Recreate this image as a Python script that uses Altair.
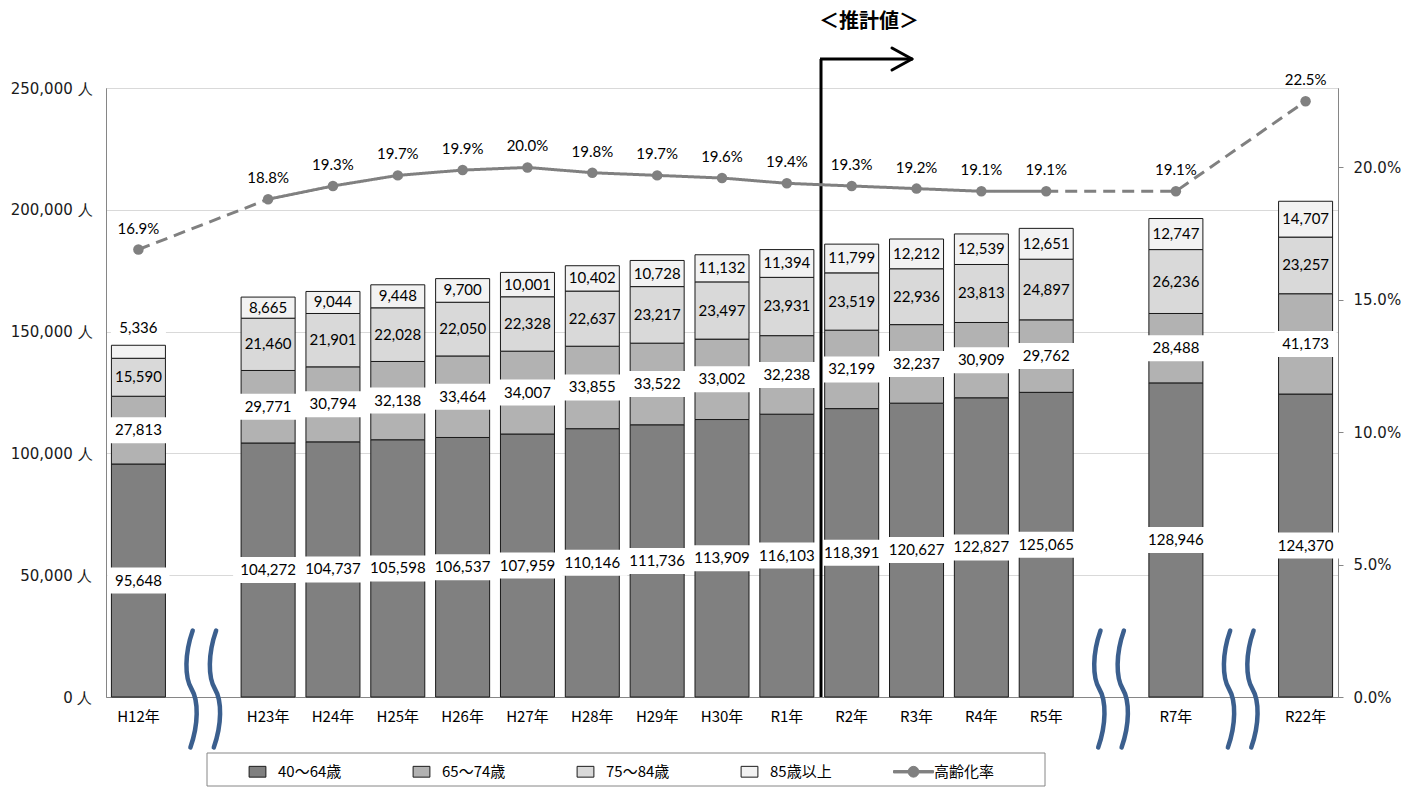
import altair as alt
import pandas as pd

# ---------------- data ----------------
YEARS = ["H12年", "H23年", "H24年", "H25年", "H26年", "H27年", "H28年", "H29年",
         "H30年", "R1年", "R2年", "R3年", "R4年", "R5年", "R7年", "R22年"]
# category slots on the x axis (blank slots mark the axis breaks)
SLOTS = ["H12年", "gap1", "H23年", "H24年", "H25年", "H26年", "H27年", "H28年",
         "H29年", "H30年", "R1年", "R2年", "R3年", "R4年", "R5年", "gap2",
         "R7年", "gap3", "R22年"]
GAPS = ["gap1", "gap2", "gap3"]

SERIES = ["40〜64歳", "65〜74歳", "75〜84歳", "85歳以上"]
LINE_NAME = "高齢化率"

AGE_40_64 = [95648, 104272, 104737, 105598, 106537, 107959, 110146, 111736,
             113909, 116103, 118391, 120627, 122827, 125065, 128946, 124370]
AGE_65_74 = [27813, 29771, 30794, 32138, 33464, 34007, 33855, 33522,
             33002, 32238, 32199, 32237, 30909, 29762, 28488, 41173]
AGE_75_84 = [15590, 21460, 21901, 22028, 22050, 22328, 22637, 23217,
             23497, 23931, 23519, 22936, 23813, 24897, 26236, 23257]
AGE_85_UP = [5336, 8665, 9044, 9448, 9700, 10001, 10402, 10728,
             11132, 11394, 11799, 12212, 12539, 12651, 12747, 14707]
RATE = [16.9, 18.8, 19.3, 19.7, 19.9, 20.0, 19.8, 19.7, 19.6, 19.4,
        19.3, 19.2, 19.1, 19.1, 19.1, 22.5]
SOLID_FROM, SOLID_TO = "H23年", "R5年"   # solid part of the rate line

LEFT_TICKS = [0, 50000, 100000, 150000, 200000, 250000]
RIGHT_TICKS = [0, 0.05, 0.10, 0.15, 0.20]

# ---------------- styles ----------------
FILLS = ["#808080", "#b2b2b2", "#d9d9d9", "#f2f2f2", "#808080"]
STROKES = ["#1a1a1a", "#1a1a1a", "#1a1a1a", "#1a1a1a", "#808080"]
RECT_SYM = "M-0.42,-0.27H0.42V0.27H-0.42Z"
LINE_SYM = ("M-1,-0.06H-0.27V0.06H-1Z M0.27,-0.06H1V0.06H0.27Z "
            "M-0.27,0 A0.27,0.27 0 1,0 0.27,0 A0.27,0.27 0 1,0 -0.27,0Z")
WAVE = ("M-0.18,-1 C-0.32,-0.6 -0.32,-0.2 -0.2,0 C-0.08,0.2 -0.08,0.6 -0.22,1 "
        "M0.22,-1 C0.08,-0.6 0.08,-0.2 0.2,0 C0.32,0.2 0.32,0.6 0.18,1")
NUM_FONT = "Lato"
AX_FONT = "DejaVu Sans"
JP_FONT = "Noto Sans CJK JP"
GRAY = "#808080"
AXIS_GRAY = "#868686"

# ---------------- tables ----------------
rows = []
cols = [AGE_40_64, AGE_65_74, AGE_75_84, AGE_85_UP]
for i, y in enumerate(YEARS):
    lo = 0
    for k, s in enumerate(SERIES):
        v = cols[k][i]
        rows.append(dict(year=y, series=s, idx=k, value=v, lo=lo, hi=lo + v,
                         mid=lo + v / 2, label=f"{v:,}",
                         small=v < 7000, boxed=(k <= 1)))
        lo += v
bar_df = pd.DataFrame(rows)

rate_df = pd.DataFrame(dict(year=YEARS, rate=[r / 100 for r in RATE]))
i0, i1 = YEARS.index(SOLID_FROM), YEARS.index(SOLID_TO)
segs = [("a", "dashed", range(0, i0 + 1)),
        ("b", "solid", range(i0, i1 + 1)),
        ("c", "dashed", range(i1, len(YEARS)))]
line_rows = []
for sid, style, rng in segs:
    for i in rng:
        line_rows.append(dict(year=YEARS[i], rate=RATE[i] / 100, seg=sid, style=style))
line_df = pd.DataFrame(line_rows)

legend_items = SERIES + [LINE_NAME]

# ---------------- encodings ----------------
x_axis = alt.Axis(title=None, labelAngle=0, ticks=False, labelPadding=12,
                  labelFont=JP_FONT, labelFontSize=15, labelColor="#000",
                  domainColor=AXIS_GRAY, domainWidth=1,
                  labelExpr="indexof(datum.label, 'gap') == 0 ? '' : datum.label")
x_scale = alt.Scale(domain=SLOTS, paddingInner=0.167, paddingOuter=0.0835)
X = alt.X("year:N", scale=x_scale, axis=x_axis)

y_left_scale = alt.Scale(domain=[0, 250000], nice=False)
y_left_axis = alt.Axis(title=None, values=LEFT_TICKS, grid=True, gridColor="#d9d9d9",
                       ticks=False, domainColor=AXIS_GRAY, labelPadding=14,
                       labelFont=AX_FONT, labelFontSize=15, labelColor="#1a1a1a",
                       labelExpr="format(datum.value, ',') + ' 人'")
color_scale = alt.Scale(domain=legend_items, range=FILLS)
shape_scale = alt.Scale(domain=legend_items, range=[RECT_SYM] * 4 + [LINE_SYM])
stroke_scale = alt.Scale(domain=legend_items, range=STROKES)

legend = alt.Legend(title=None, orient="none", legendX=131, legendY=663,
                    direction="horizontal", columns=5, symbolSize=1600,
                    labelFont=JP_FONT, labelFontSize=15, labelColor="#000",
                    labelOffset=0, columnPadding=57, gridAlign="all",
                    symbolStrokeWidth=1, symbolOpacity=1)

bars = alt.Chart(bar_df).mark_bar(stroke="#1a1a1a", strokeWidth=1).encode(
    x=X,
    y=alt.Y("lo:Q", scale=y_left_scale, axis=y_left_axis),
    y2="hi:Q",
    color=alt.Color("series:N", scale=color_scale, legend=legend),
)


def box_layer(filter_expr, width, field, off):
    return alt.Chart(bar_df).transform_filter(filter_expr).mark_bar(
        color="white", width=width, yOffset=off - 13, y2Offset=off + 13
    ).encode(x=X, y=alt.Y(f"{field}:Q", scale=y_left_scale), y2=f"{field}:Q")


boxes = [
    box_layer("datum.boxed && !datum.small && length(datum.label) == 7", 70, "mid", 0),
    box_layer("datum.boxed && !datum.small && length(datum.label) == 6", 62, "mid", 0),
    box_layer("datum.small", 55, "hi", -17),
]

labels = alt.Chart(bar_df).transform_filter("!datum.small").mark_text(
    font=NUM_FONT, fontSize=15, color="#000", baseline="middle"
).encode(x=X, y=alt.Y("mid:Q", scale=y_left_scale), text="label:N")

labels_small = alt.Chart(bar_df).transform_filter("datum.small").mark_text(
    font=NUM_FONT, fontSize=15, color="#000", baseline="middle", dy=-17
).encode(x=X, y=alt.Y("hi:Q", scale=y_left_scale), text="label:N")

one = pd.DataFrame({"k": [0]})
arrow = [
    alt.Chart(one).mark_rule(color="#000", strokeWidth=3).encode(
        x=alt.value(715), y=alt.value(-29), x2=alt.value(715), y2=alt.value(609)),
    alt.Chart(one).mark_rule(color="#000", strokeWidth=3).encode(
        x=alt.value(714), y=alt.value(-29), x2=alt.value(806), y2=alt.value(-29)),
    alt.Chart(one).mark_rule(color="#000", strokeWidth=3, strokeCap="round").encode(
        x=alt.value(786), y=alt.value(-40), x2=alt.value(806), y2=alt.value(-29)),
    alt.Chart(one).mark_rule(color="#000", strokeWidth=3, strokeCap="round").encode(
        x=alt.value(786), y=alt.value(-18), x2=alt.value(806), y2=alt.value(-29)),
    alt.Chart(one).mark_text(font=JP_FONT, fontSize=20, fontWeight="bold", color="#000").encode(
        x=alt.value(763), y=alt.value(-66), text=alt.value("＜推計値＞")),
]

waves = alt.Chart(pd.DataFrame({"year": GAPS})).mark_point(
    shape=WAVE, size=13689, filled=False, stroke="#3b5f8e", strokeWidth=4.5,
    opacity=1, strokeCap="round"
).encode(x=X, y=alt.value(601))

legend_box = alt.Chart(one).mark_rect(fillOpacity=0, stroke=AXIS_GRAY, strokeWidth=1).encode(
    x=alt.value(101), x2=alt.value(939), y=alt.value(665), y2=alt.value(698))

legend_layer = alt.Chart(pd.DataFrame({"series": legend_items})).transform_filter(
    "datum.series == 'none'"
).mark_point(filled=True, opacity=1).encode(
    color=alt.Color("series:N", scale=color_scale, legend=legend),
    shape=alt.Shape("series:N", scale=shape_scale, legend=legend),
    stroke=alt.Stroke("series:N", scale=stroke_scale, legend=legend),
)

left = alt.layer(bars, *boxes, labels, labels_small, *arrow, waves, legend_box, legend_layer)

y_right_scale = alt.Scale(domain=[0, 0.23], nice=False)
y_right_axis = alt.Axis(title=None, orient="right", values=RIGHT_TICKS, format=".1%",
                        grid=False, tickSize=5, tickColor=AXIS_GRAY, domainColor=AXIS_GRAY,
                        labelPadding=10, labelFont=AX_FONT, labelFontSize=15,
                        labelColor="#1a1a1a")

line = alt.Chart(line_df).mark_line(color=GRAY, strokeWidth=3).encode(
    x=X,
    y=alt.Y("rate:Q", scale=y_right_scale, axis=y_right_axis),
    detail="seg:N",
    strokeDash=alt.StrokeDash("style:N", scale=alt.Scale(domain=["solid", "dashed"],
                                                         range=[[1, 0], [12, 7]]),
                              legend=None),
)
pts = alt.Chart(rate_df).mark_circle(size=110, color=GRAY, opacity=1).encode(
    x=X, y=alt.Y("rate:Q", scale=y_right_scale))
rate_labels = alt.Chart(rate_df).mark_text(
    font=NUM_FONT, fontSize=15, color="#000", dy=-21
).encode(x=X, y=alt.Y("rate:Q", scale=y_right_scale),
         text=alt.Text("rate:Q", format=".1%"))

right = alt.layer(line, pts, rate_labels)

chart = alt.layer(left, right).resolve_scale(y="independent").properties(
    width=1232, height=609,
    autosize=alt.AutoSizeParams(type="none"),
    padding={"left": 106, "top": 88, "right": 76, "bottom": 90},
    background="white",
).configure_view(stroke=AXIS_GRAY, strokeWidth=1)

chart.save("out.html", embed_options={"renderer": "svg", "actions": False})
